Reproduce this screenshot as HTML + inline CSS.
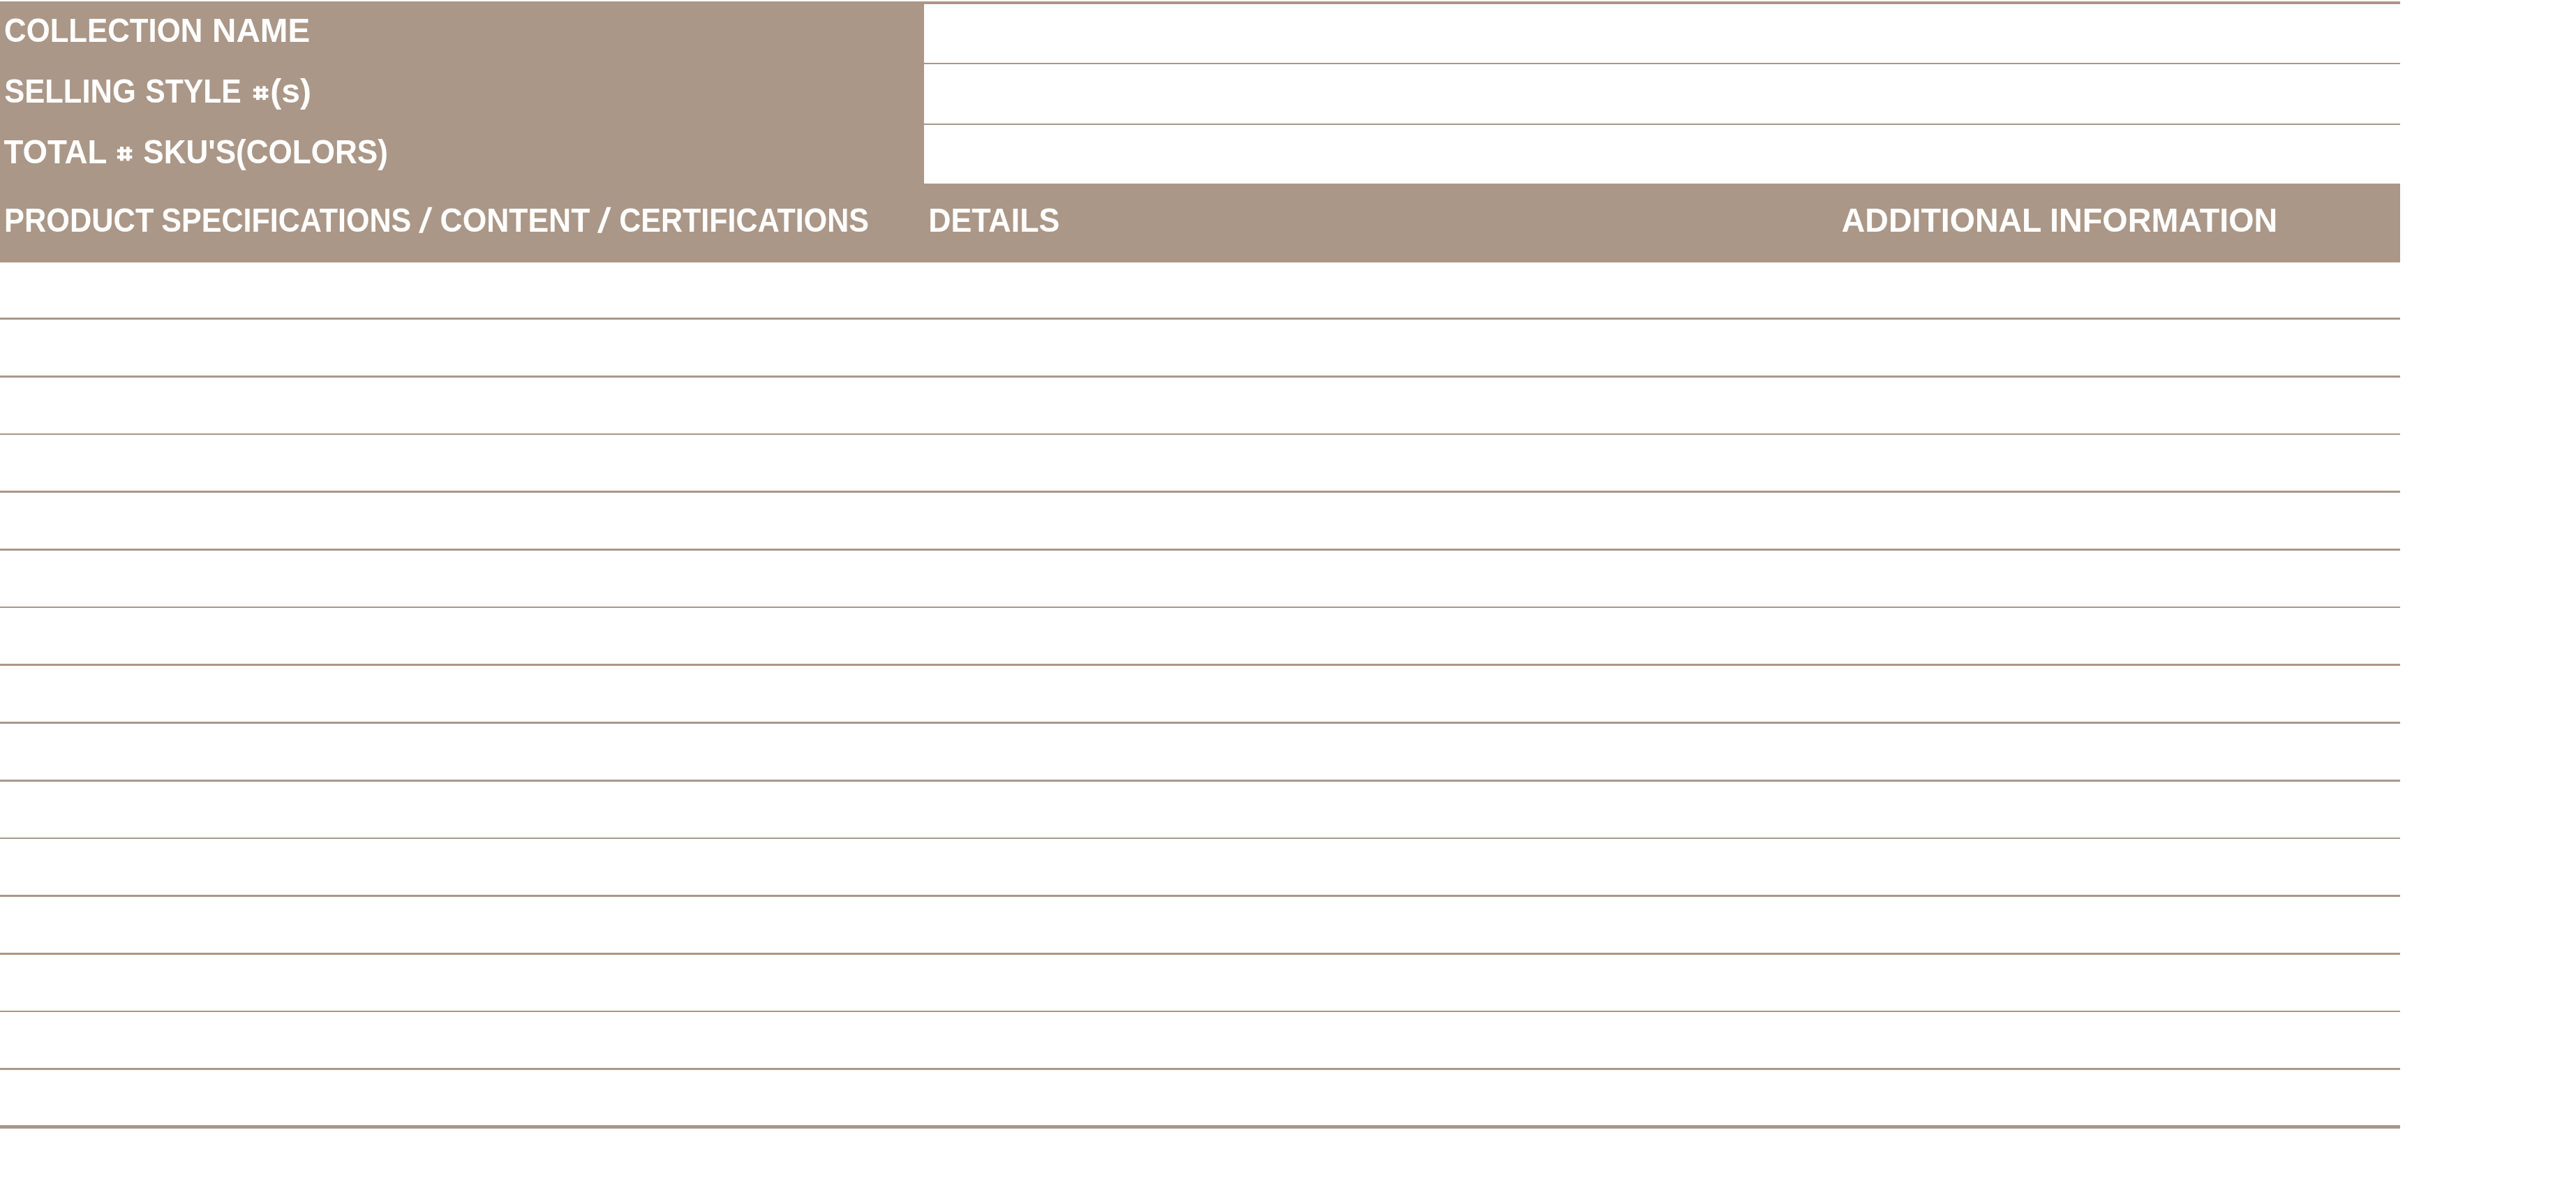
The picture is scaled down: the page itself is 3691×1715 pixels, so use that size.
<!DOCTYPE html>
<html><head><meta charset="utf-8"><title>Product Specifications</title>
<style>
html,body{margin:0;padding:0;background:#fff;}
body{width:3691px;height:1715px;overflow:hidden;}
svg{display:block;will-change:transform;}
svg text{font-family:"Liberation Sans",sans-serif;font-weight:bold;fill:#fff;}
</style></head>
<body>
<svg width="3691" height="1715" viewBox="0 0 3691 1715">
<rect x="0" y="2" width="1324" height="374" fill="#ab9787"/>
<rect x="0" y="263" width="3439" height="113" fill="#ab9787"/>
<rect x="1324" y="2" width="2115" height="4" fill="#ab9787"/>
<rect x="1324" y="90" width="2115" height="2" fill="#ab9787"/>
<rect x="1324" y="177" width="2115" height="2" fill="#ab9787"/>
<rect x="0" y="455" width="3439" height="3" fill="#ab9787"/>
<rect x="0" y="538" width="3439" height="3" fill="#ab9787"/>
<rect x="0" y="621" width="3439" height="2" fill="#ab9787"/>
<rect x="0" y="703" width="3439" height="3" fill="#ab9787"/>
<rect x="0" y="786" width="3439" height="3" fill="#ab9787"/>
<rect x="0" y="869" width="3439" height="2" fill="#ab9787"/>
<rect x="0" y="951" width="3439" height="3" fill="#ab9787"/>
<rect x="0" y="1034" width="3439" height="3" fill="#ab9787"/>
<rect x="0" y="1117" width="3439" height="3" fill="#ab9787"/>
<rect x="0" y="1200" width="3439" height="2" fill="#ab9787"/>
<rect x="0" y="1282" width="3439" height="3" fill="#ab9787"/>
<rect x="0" y="1365" width="3439" height="3" fill="#ab9787"/>
<rect x="0" y="1448" width="3439" height="2" fill="#ab9787"/>
<rect x="0" y="1530" width="3439" height="3" fill="#ab9787"/>
<rect x="0" y="1612" width="3439" height="5" fill="#ab9787"/>
<text x="6.11" y="60" font-size="48.6" textLength="284.09" lengthAdjust="spacingAndGlyphs">COLLECTION</text>
<text x="304.06" y="60" font-size="48.6" textLength="140.20" lengthAdjust="spacingAndGlyphs">NAME</text>
<text x="6.19" y="147" font-size="48.6" textLength="188.64" lengthAdjust="spacingAndGlyphs">SELLING</text>
<text x="208.25" y="147" font-size="48.6" textLength="137.45" lengthAdjust="spacingAndGlyphs">STYLE</text>
<text x="387.37" y="147" font-size="48.6" textLength="58.77" lengthAdjust="spacingAndGlyphs">(s)</text>
<text x="5.54" y="234" font-size="48.6" textLength="147.96" lengthAdjust="spacingAndGlyphs">TOTAL</text>
<text x="205.26" y="234" font-size="48.6" textLength="350.58" lengthAdjust="spacingAndGlyphs">SKU&#39;S(COLORS)</text>
<text x="6.02" y="331.8" font-size="48.3" textLength="214.34" lengthAdjust="spacingAndGlyphs">PRODUCT</text>
<text x="231.22" y="331.8" font-size="48.3" textLength="358.12" lengthAdjust="spacingAndGlyphs">SPECIFICATIONS</text>
<text x="630.59" y="331.8" font-size="48.3" textLength="214.78" lengthAdjust="spacingAndGlyphs">CONTENT</text>
<text x="887.23" y="331.8" font-size="48.3" textLength="357.82" lengthAdjust="spacingAndGlyphs">CERTIFICATIONS</text>
<text x="1330.17" y="331.8" font-size="48.3" textLength="188.19" lengthAdjust="spacingAndGlyphs">DETAILS</text>
<text x="2638.74" y="331.8" font-size="48.6" textLength="286.80" lengthAdjust="spacingAndGlyphs">ADDITIONAL</text>
<text x="2937.08" y="331.8" font-size="48.6" textLength="326.30" lengthAdjust="spacingAndGlyphs">INFORMATION</text>
<g fill="#fff"><rect x="367.00" y="123.40" width="4.91" height="19.70"/><rect x="376.11" y="123.40" width="4.61" height="19.70"/><rect x="362.90" y="126.90" width="21.50" height="4.30"/><rect x="362.90" y="135.80" width="21.50" height="4.30"/><rect x="171.98" y="210.20" width="4.89" height="20.20"/><rect x="181.05" y="210.20" width="4.59" height="20.20"/><rect x="167.90" y="213.79" width="21.40" height="4.41"/><rect x="167.90" y="222.91" width="21.40" height="4.41"/><polygon points="613.6,296.8 619.4,296.8 605.7,333.7 600.0,333.7"/><polygon points="869.4,296.8 875.5,296.8 862.0,333.7 855.9,333.7"/></g>
</svg>
</body></html>
